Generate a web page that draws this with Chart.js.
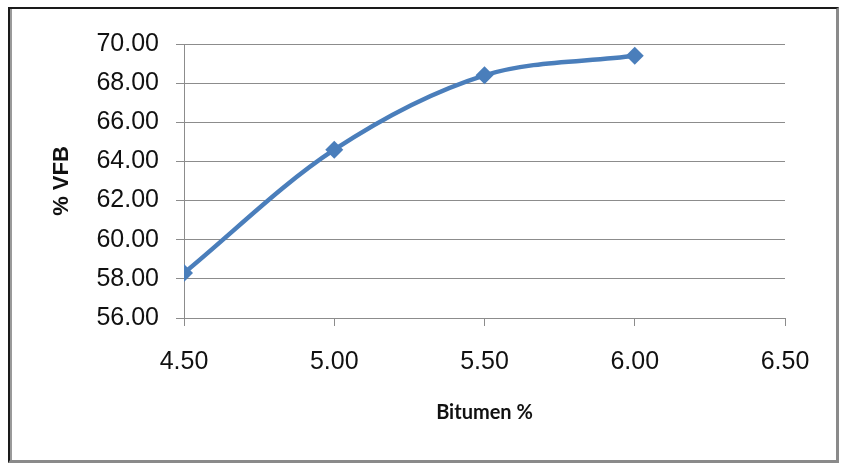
<!DOCTYPE html>
<html>
<head>
<meta charset="utf-8">
<script src="https://cdn.jsdelivr.net/npm/chart.js@4.4.1/dist/chart.umd.min.js"></script>
<style>
    html, body { margin: 0; padding: 0; background: #fff; }
    #wrap { position: relative; width: 841px; height: 464px; }
    #frame {
        position: absolute; left: 8px; top: 7px; width: 826px; height: 451px;
        border-top: 2px solid #1a1a1a; border-left: 2px solid #1a1a1a;
        border-right: 3px solid #8a8a8a; border-bottom: 3px solid #8a8a8a;
        box-shadow: inset 2px 0 0 #9a9a9a;
        pointer-events: none;
    }
    canvas { position: absolute; left: 0; top: 0; }
</style>
</head>
<body>
<div id="wrap">
    <canvas id="vfbChart" width="841" height="464"></canvas>
    <div id="frame"></div>
</div>
<script>
// VFB against bitumen content
const bitumenPct = [4.50, 5.00, 5.50, 6.00];
const vfbPct = [58.30, 64.60, 68.40, 69.40];
const xTicks = [4.50, 5.00, 5.50, 6.00, 6.50];
const yTicks = [56, 58, 60, 62, 64, 66, 68, 70];

const lineBlue = '#4a7ebb';
const gridGrey = '#8c8c8c';
const tickFont = { family: '"Liberation Sans", Arial, sans-serif', size: 25 };

document.addEventListener('DOMContentLoaded', function() {
    const ctx = document.getElementById('vfbChart').getContext('2d');

    new Chart(ctx, {
        type: 'line',
        data: {
            datasets: [{
                data: bitumenPct.map((x, i) => ({ x: x, y: vfbPct[i] })),
                borderColor: lineBlue,
                backgroundColor: lineBlue,
                borderWidth: 4.5,
                tension: 0.33,
                pointStyle: 'rectRot',
                pointRadius: 9,
                pointBorderWidth: 0,
                fill: false
            }]
        },
        options: {
            responsive: false,
            animation: false,
            layout: { padding: { left: 0, top: 44, right: 56, bottom: 0 } },
            plugins: { legend: { display: false }, tooltip: { enabled: false } },
            scales: {
                x: {
                    type: 'linear',
                    min: 4.5,
                    max: 6.5,
                    afterBuildTicks: scale => { scale.ticks = xTicks.map(v => ({ value: v })); },
                    afterFit: scale => { scale.height = 146; },
                    grid: { drawOnChartArea: false, drawTicks: true, tickLength: 8, color: gridGrey },
                    border: { color: gridGrey, width: 1 },
                    ticks: {
                        font: tickFont, color: '#111', padding: 21, maxRotation: 0,
                        callback: v => Number(v).toFixed(2)
                    },
                    title: {
                        display: true,
                        text: 'Bitumen %',
                        color: '#111',
                        font: { family: 'Lato, "Open Sans", sans-serif', size: 20, weight: 'bold' },
                        padding: { top: 0, bottom: 39 }
                    }
                },
                y: {
                    min: 56,
                    max: 70,
                    afterBuildTicks: scale => { scale.ticks = yTicks.map(v => ({ value: v })); },
                    afterFit: scale => { scale.width = 184; },
                    grid: { drawTicks: true, tickLength: 8, color: gridGrey },
                    border: { color: gridGrey, width: 1 },
                    ticks: {
                        font: tickFont, color: '#111', padding: 17,
                        callback: v => Number(v).toFixed(2)
                    },
                    title: {
                        display: true,
                        text: '% VFB',
                        color: '#111',
                        font: { family: '"Liberation Sans", Arial, sans-serif', size: 22, weight: 'bold' },
                        padding: { top: 49, bottom: 0 }
                    }
                }
            }
        }
    });
});
</script>
</body>
</html>
